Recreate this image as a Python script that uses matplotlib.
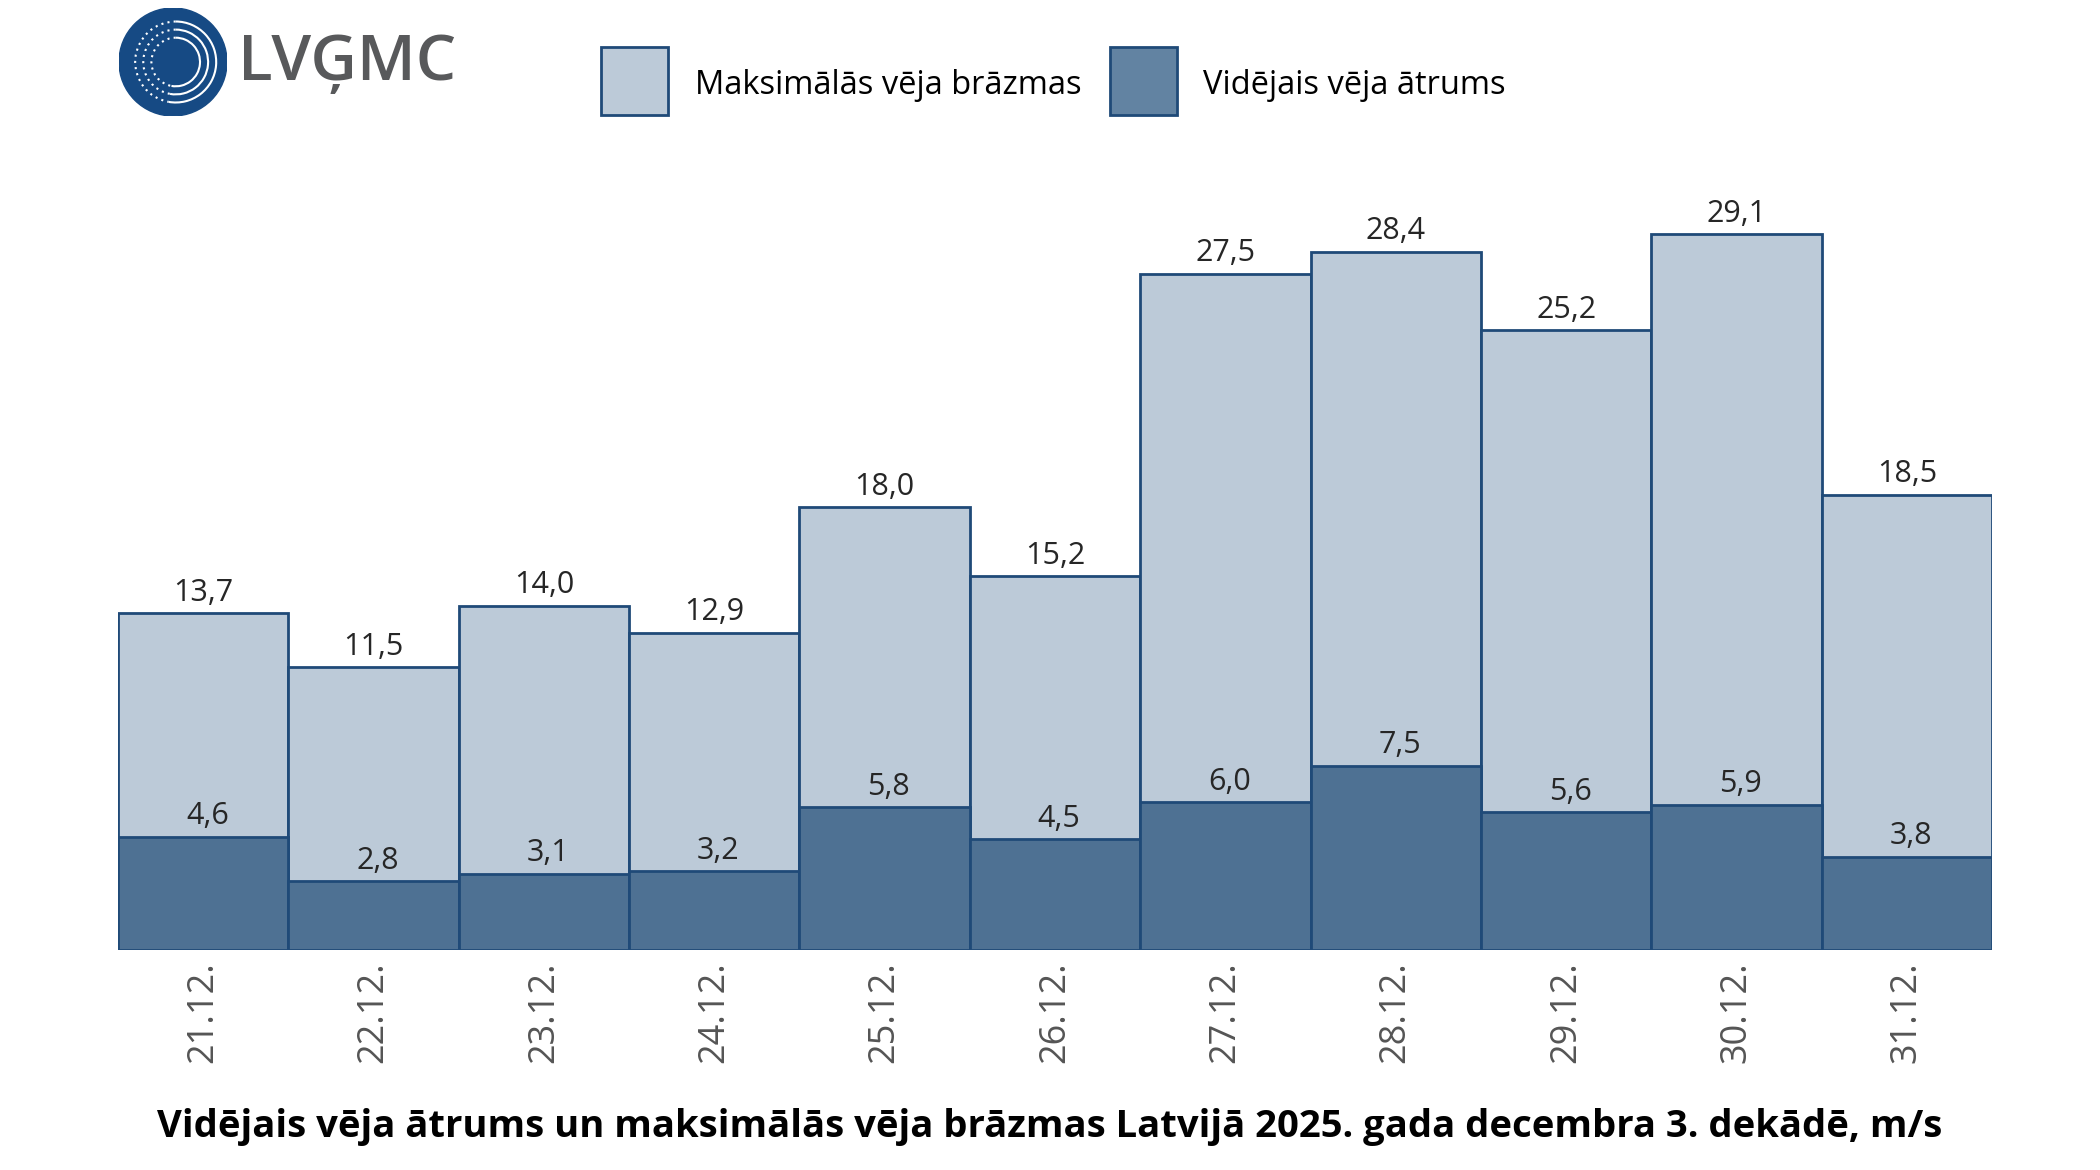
import numpy as np
import matplotlib
matplotlib.use("Agg")
import matplotlib.pyplot as plt
from matplotlib.patches import Circle, Rectangle, Arc

plt.rcParams['font.family'] = ['Open Sans', 'DejaVu Sans']

# data
dates = ['21.12.', '22.12.', '23.12.', '24.12.', '25.12.', '26.12.',
         '27.12.', '28.12.', '29.12.', '30.12.', '31.12.']
max_gust = [13.7, 11.5, 14.0, 12.9, 18.0, 15.2, 27.5, 28.4, 25.2, 29.1, 18.5]
mean_wind = [4.6, 2.8, 3.1, 3.2, 5.8, 4.5, 6.0, 7.5, 5.6, 5.9, 3.8]

light = '#bccad8'
dark = '#4e7193'
dark_leg = '#6283a2'
edge = '#1f4a78'

W, H = 2100, 1170
fig = plt.figure(figsize=(21, 11.7), dpi=100)
ax = fig.add_axes([118 / W, 220 / H, 1874 / W, 787 / H])

x = np.arange(len(dates))
ax.bar(x, max_gust, width=1.0, color=light, edgecolor=edge, linewidth=2)
ax.bar(x, mean_wind, width=1.0, color=dark, edgecolor=edge, linewidth=2)

def fmt(v):
    return f'{v:.1f}'.replace('.', ',')

for i in x:
    ax.annotate(fmt(max_gust[i]), (i, max_gust[i]), xytext=(0, 4),
                textcoords='offset points', ha='center', va='bottom',
                fontsize=22, color='#262626')
    ax.annotate(fmt(mean_wind[i]), (i, mean_wind[i]), xytext=(3, 4),
                textcoords='offset points', ha='center', va='bottom',
                fontsize=22, color='#262626')

ax.set_xlim(-0.5, len(dates) - 0.5)
ax.set_ylim(0, 32)
ax.set_yticks([])
ax.set_xticks(x)
ax.set_xticklabels(dates, rotation=90, fontsize=26, color='#555555')
ax.tick_params(axis='x', length=0, pad=8)
for s in ax.spines.values():
    s.set_visible(False)

# title
fig.text(0.5, 1 - 1127 / H, 'Vidējais vēja ātrums un maksimālās vēja brāzmas Latvijā 2025. gada decembra 3. dekādē, m/s',
         ha='center', va='center', fontsize=27.5, fontweight='bold', color='black')

# legend
fig.patches.append(Rectangle((601 / W, 1 - 115 / H), 67 / W, 68 / H, transform=fig.transFigure,
                             facecolor=light, edgecolor=edge, linewidth=2))
fig.text(695 / W, 1 - 86 / H, 'Maksimālās vēja brāzmas', ha='left', va='center',
         fontsize=23.5, color='black')
fig.patches.append(Rectangle((1110 / W, 1 - 115 / H), 67 / W, 68 / H, transform=fig.transFigure,
                             facecolor=dark_leg, edgecolor=edge, linewidth=2))
fig.text(1203 / W, 1 - 86 / H, 'Vidējais vēja ātrums', ha='left', va='center',
         fontsize=23.5, color='black')

# logo
lax = fig.add_axes([119 / W, 1 - 116 / H, 108 / W, 108 / H])
lax.set_xlim(-1, 1)
lax.set_ylim(-1, 1)
lax.set_aspect('equal')
lax.axis('off')
lax.add_patch(Circle((0, 0), 1.0, color='#164a84'))
for r in [0.45, 0.6, 0.75]:
    lax.add_patch(Arc((0.05, 0.0), 2 * r, 2 * r, theta1=-100, theta2=90,
                      color='white', linewidth=1.5))
    lax.add_patch(Arc((0.05, 0.0), 2 * r, 2 * r, theta1=90, theta2=260,
                      color='white', linewidth=1.5, linestyle=(0, (1, 2))))
fig.text(238 / W, 1 - 64 / H, 'LVĢMC', ha='left', va='center',
         fontsize=46, fontweight='semibold', color='#58595b')

fig.savefig('out.png', dpi=100)
